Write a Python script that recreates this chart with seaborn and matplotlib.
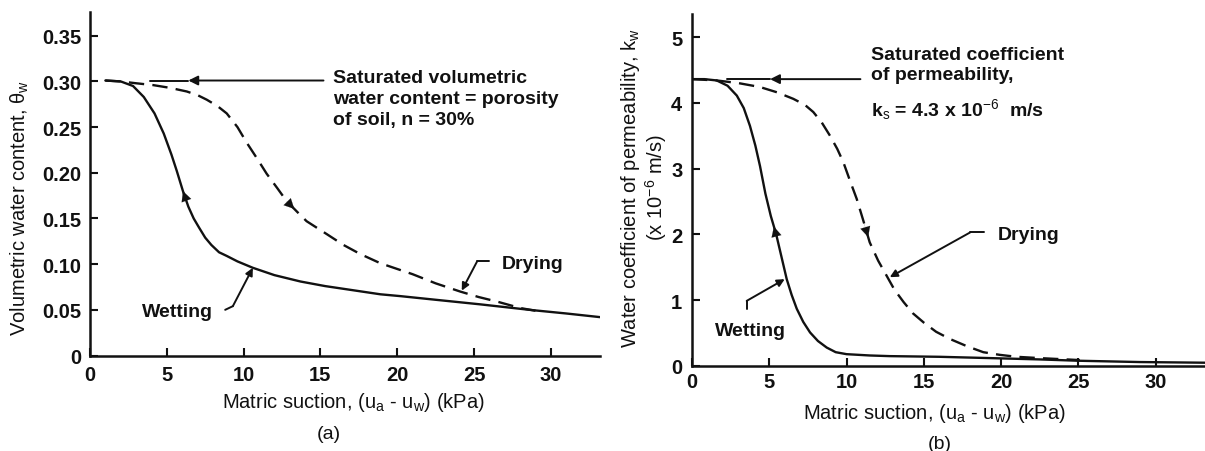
import numpy as np
import seaborn as sns
import matplotlib.pyplot as plt

# (a) volumetric water content vs matric suction
wet_a_x = [1.0, 2.0, 2.8, 3.5, 4.2, 4.8, 5.3, 5.65, 6.05, 6.4, 6.75, 7.1, 7.5, 7.9,
           8.4, 8.9, 9.6, 10.6, 12.0, 13.7, 15.3, 16.9, 18.9, 20.2, 22.5, 25.4,
           28.6, 31.0, 33.2]
wet_a_y = [0.301, 0.300, 0.295, 0.283, 0.265, 0.243, 0.220, 0.202, 0.180, 0.163,
           0.150, 0.140, 0.129, 0.121, 0.113, 0.109, 0.103, 0.096, 0.088, 0.081,
           0.076, 0.072, 0.067, 0.065, 0.061, 0.056, 0.050, 0.046, 0.042]
dry_a_x = [1.0, 2.0, 3.0, 4.1, 5.2, 6.3, 7.0, 7.6, 8.3, 8.9, 9.6, 10.2, 10.9, 11.5,
           12.2, 12.8, 13.5, 14.1, 15.4, 16.5, 17.6, 18.9, 21.0, 22.5, 24.1, 25.3,
           26.5, 28.0, 29.0]
dry_a_y = [0.301, 0.300, 0.298, 0.296, 0.293, 0.289, 0.285, 0.280, 0.273, 0.265,
           0.250, 0.233, 0.215, 0.199, 0.183, 0.169, 0.157, 0.147, 0.133, 0.121,
           0.111, 0.101, 0.089, 0.079, 0.070, 0.064, 0.059, 0.052, 0.049]

# (b) water coefficient of permeability (x 1e-6 m/s) vs matric suction
wet_b_x = [0.0, 0.8, 1.6, 2.3, 2.9, 3.35, 3.75, 4.1, 4.4, 4.75, 5.1, 5.45, 5.8,
           6.13, 6.45, 6.78, 7.2, 7.64, 8.15, 8.72, 9.3, 10.0, 11.5, 12.8, 16.0,
           19.3, 22.5, 25.0, 29.0, 33.2]
wet_b_y = [4.36, 4.36, 4.34, 4.26, 4.11, 3.92, 3.65, 3.35, 3.04, 2.62, 2.28, 2.00,
           1.65, 1.32, 1.08, 0.87, 0.67, 0.51, 0.38, 0.28, 0.21, 0.18, 0.16, 0.15,
           0.14, 0.12, 0.10, 0.08, 0.06, 0.05]
dry_b_x = [0.0, 1.6, 3.0, 4.4, 5.5, 6.56, 7.3, 7.85, 8.4, 8.93, 9.4, 9.79, 10.25,
           10.66, 11.1, 11.5, 12.05, 12.6, 13.1, 13.7, 14.3, 15.0, 15.8, 16.7,
           17.8, 18.85, 19.9, 21.0, 22.5, 25.1]
dry_b_y = [4.36, 4.34, 4.30, 4.24, 4.16, 4.06, 3.97, 3.86, 3.70, 3.50, 3.30, 3.10,
           2.80, 2.54, 2.20, 1.88, 1.60, 1.37, 1.16, 0.97, 0.80, 0.66, 0.52, 0.41,
           0.30, 0.21, 0.17, 0.14, 0.12, 0.09]

x_ticks = [0, 5, 10, 15, 20, 25, 30]
a_yticks = [0, 0.05, 0.10, 0.15, 0.20, 0.25, 0.30, 0.35]
a_ytick_labels = ["0", "0.05", "0.10", "0.15", "0.20", "0.25", "0.30", "0.35"]
b_yticks = [0, 1, 2, 3, 4, 5]
b_ytick_labels = ["0", "1", "2", "3", "4", "5"]

sns.set_theme(style="ticks")
plt.rcParams["font.family"] = ["Liberation Sans", "DejaVu Sans"]
plt.rcParams["mathtext.fontset"] = "custom"
plt.rcParams["mathtext.rm"] = "Liberation Sans"
plt.rcParams["mathtext.it"] = "Liberation Sans"
plt.rcParams["mathtext.bf"] = "Liberation Sans:bold"

INK = "#111111"
LW = 1.7
DASH = (0, (6.5, 3.5))
TXT = dict(fontsize=14, fontweight="bold", color=INK)


def arrow(ax, tip, tail, head=14):
    ax.annotate("", xy=tip, xytext=tail,
                arrowprops=dict(arrowstyle="-|>", color=INK, lw=1.4,
                                mutation_scale=head, shrinkA=0, shrinkB=0))


def curve_arrow(ax, xs, ys, x_tip, x_tail):
    # arrowhead sitting on a curve, pointing along it
    tip = (x_tip, np.interp(x_tip, xs, ys))
    tail = (x_tail, np.interp(x_tail, xs, ys))
    ax.annotate("", xy=tip, xytext=tail,
                arrowprops=dict(arrowstyle="-|>", color=INK, lw=0.1,
                                mutation_scale=18, shrinkA=0, shrinkB=0))


def style_axes(ax, xlim, ylim, yticks, ylabels, xpad, ypad):
    ax.set_xlim(*xlim)
    ax.set_ylim(*ylim)
    ax.set_xticks(x_ticks)
    ax.set_yticks(yticks)
    ax.set_yticklabels(ylabels)
    sns.despine(ax=ax)
    for s in ["left", "bottom"]:
        ax.spines[s].set_linewidth(1.8)
        ax.spines[s].set_color(INK)
    ax.tick_params(direction="in", length=6, width=1.5, color=INK,
                   labelsize=14.5, labelcolor=INK)
    ax.tick_params(axis="x", pad=xpad)
    ax.tick_params(axis="y", pad=ypad)
    for lab in ax.get_xticklabels() + ax.get_yticklabels():
        lab.set_fontweight("bold")


fig = plt.figure(figsize=(12.05, 4.52), dpi=100)
ax1 = fig.add_axes([90 / 1205, 1 - 356.5 / 452, 510 / 1205, 343.5 / 452])
ax2 = fig.add_axes([692 / 1205, 1 - 367 / 452, 513 / 1205, 352 / 452])

# ---------------- (a)
sns.lineplot(x=wet_a_x, y=wet_a_y, ax=ax1, color=INK, lw=LW, sort=False,
             estimator=None)
sns.lineplot(x=dry_a_x, y=dry_a_y, ax=ax1, color=INK, lw=LW, sort=False,
             estimator=None, linestyle=DASH)
style_axes(ax1, (0, 33.2), (0, 0.376), a_yticks, a_ytick_labels, 7, 6)

sat_a = wet_a_y[0]
ax1.plot([3.9, 6.4], [sat_a, sat_a], color=INK, lw=1.4)
arrow(ax1, (6.4, sat_a), (15.2, sat_a))
ax1.text(15.8, 0.3135, "Saturated volumetric\nwater content = porosity\nof soil, n = 30%",
         ha="left", va="top", linespacing=1.3, **TXT)
curve_arrow(ax1, wet_a_x, wet_a_y, 6.05, 6.5)
curve_arrow(ax1, dry_a_x, dry_a_y, 13.3, 12.8)

ax1.text(3.36, 0.0485, "Wetting", ha="left", va="center", **TXT)
ax1.plot([8.8, 9.3], [0.050, 0.054], color=INK, lw=1.4)
arrow(ax1, (10.6, 0.096), (9.3, 0.054), head=11)
ax1.text(26.8, 0.101, "Drying", ha="left", va="center", **TXT)
ax1.plot([26.0, 25.2], [0.103, 0.103], color=INK, lw=1.4)
arrow(ax1, (24.2, 0.071), (25.2, 0.103), head=11)

ax1.set_xlabel("Matric suction, (u$_\\mathrm{a}$ - u$_\\mathrm{w}$) (kPa)",
               fontsize=14.5, color=INK, va="center")
ax1.xaxis.set_label_coords(0.516, -0.1325)
ax1.set_ylabel("Volumetric water content, $\\theta_\\mathrm{w}$",
               fontsize=14.5, color=INK, va="center")
ax1.yaxis.set_label_coords(-0.137, 0.432)

# ---------------- (b)
sns.lineplot(x=wet_b_x, y=wet_b_y, ax=ax2, color=INK, lw=LW, sort=False,
             estimator=None)
sns.lineplot(x=dry_b_x, y=dry_b_y, ax=ax2, color=INK, lw=LW, sort=False,
             estimator=None, linestyle=DASH)
style_axes(ax2, (0, 33.2), (0, 5.35), b_yticks, b_ytick_labels, 4, 7)

sat_b = wet_b_y[0]
ax2.plot([2.25, 5.05], [sat_b, sat_b], color=INK, lw=1.4)
arrow(ax2, (5.05, sat_b), (10.9, sat_b))
ax2.text(11.6, 4.87, "Saturated coefficient\nof permeability,",
         ha="left", va="top", linespacing=1.3, **TXT)
ax2.text(11.6, 3.91, "k$_\\mathrm{s}$ = 4.3 x 10$^{-6}$  m/s",
         ha="left", va="center", **TXT)
curve_arrow(ax2, wet_b_x, wet_b_y, 5.3, 5.6)
curve_arrow(ax2, dry_b_x, dry_b_y, 11.4, 11.0)

ax2.text(1.49, 0.54, "Wetting", ha="left", va="center", **TXT)
ax2.plot([3.54, 3.54], [0.87, 0.99], color=INK, lw=1.4)
arrow(ax2, (6.0, 1.32), (3.54, 0.99), head=11)
ax2.text(19.8, 2.0, "Drying", ha="left", va="center", **TXT)
ax2.plot([18.9, 18.0], [2.03, 2.03], color=INK, lw=1.4)
arrow(ax2, (12.8, 1.35), (18.0, 2.03), head=11)

ax2.set_xlabel("Matric suction, (u$_\\mathrm{a}$ - u$_\\mathrm{w}$) (kPa)",
               fontsize=14.5, color=INK, va="center")
ax2.xaxis.set_label_coords(0.472, -0.131)
ax2.set_ylabel("Water coefficient of permeability, k$_\\mathrm{w}$\n(x 10$^{-6}$ m/s)",
               fontsize=14.5, color=INK, va="center", linespacing=1.05)
ax2.yaxis.set_label_coords(-0.0936, 0.509)

fig.text(329 / 1205, 1 - 435 / 452, "(a)", ha="center", va="center",
         fontsize=14, color=INK)
fig.text(940 / 1205, 1 - 445 / 452, "(b)", ha="center", va="center",
         fontsize=14, color=INK)

fig.savefig("out.png", dpi=100, facecolor="white")
